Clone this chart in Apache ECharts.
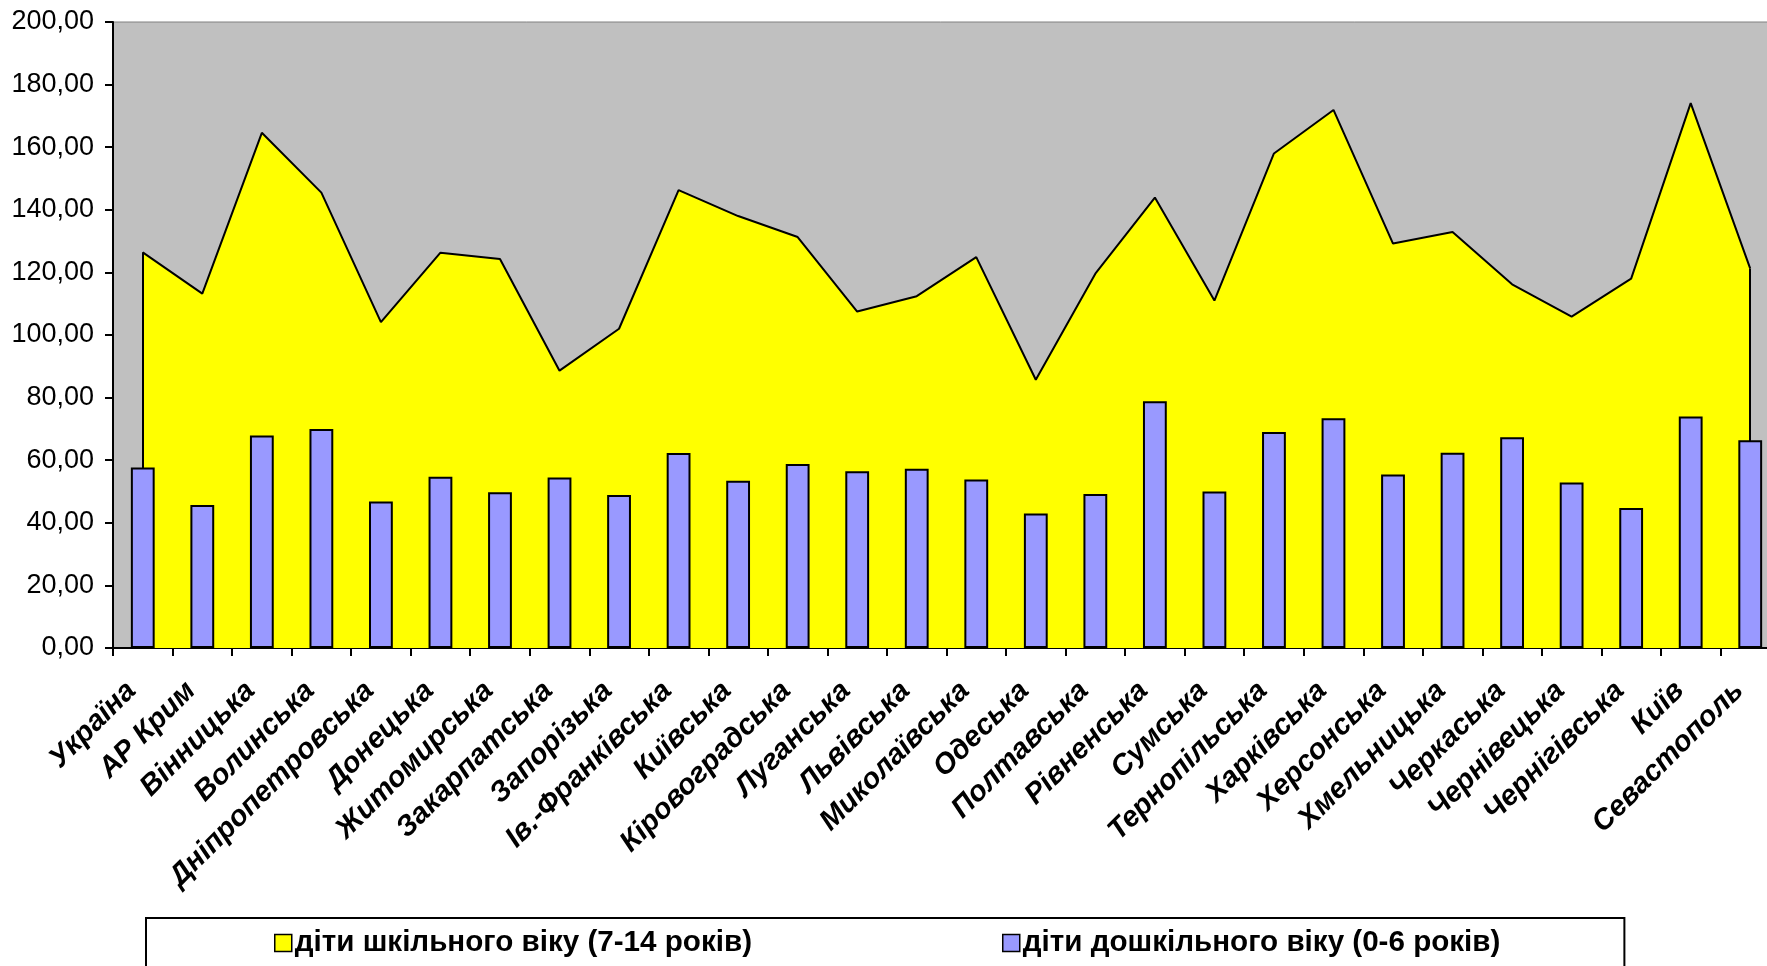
<!DOCTYPE html>
<html>
<head>
<meta charset="utf-8">
<script src="https://cdn.jsdelivr.net/npm/echarts@6/dist/echarts.min.js"></script>
<style>
html,body{margin:0;padding:0;background:#fff;}
#chart{width:1767px;height:966px;}
</style>
</head>
<body>
<div id="chart"></div>
<script>
const categories = ['Україна','АР Крим','Вінницька','Волинська','Дніпропетровська','Донецька','Житомирська','Закарпатська','Запорізька','Ів.-Франківська','Київська','Кіровоградська','Луганська','Львівська','Миколаївська','Одеська','Полтавська','Рівненська','Сумська','Тернопільська','Харківська','Херсонська','Хмельницька','Черкаська','Чернівецька','Чернігівська','Київ','Севастополь'];
const schoolAge = [126.4,113.2,164.6,145.5,104.1,126.3,124.3,88.6,102.0,146.3,138.0,131.3,107.5,112.4,124.9,85.7,119.6,143.9,111.0,158.0,171.9,129.2,132.9,116.2,105.9,118.0,174.1,121.2];
const preschoolAge = [57.7,45.7,67.9,70.0,46.8,54.7,49.8,54.5,48.9,62.3,53.4,58.8,56.5,57.3,53.8,43.0,49.2,78.8,50.0,69.0,73.4,55.4,62.4,67.3,52.9,44.7,74.0,66.4];
const seriesNames = ['діти шкільного віку (7-14 років)','діти дошкільного віку (0-6 років)'];
const yTicks = {min:0, max:200, interval:20};

const chart = echarts.init(document.getElementById('chart'));
const font = 'Liberation Sans, Arial, sans-serif';
const last = categories.length - 1;
chart.setOption({
  animation:false,
  backgroundColor:'#ffffff',
  grid:{left:113, top:22, width:1667, height:626, containLabel:false, outerBoundsMode:'none', show:true, backgroundColor:'#C0C0C0', borderColor:'#808080', borderWidth:1},
  legend:{
    left:146, top:918, orient:'horizontal',
    itemGap:250, itemWidth:17, itemHeight:17,
    padding:[10,124,30,128],
    borderColor:'#000', borderWidth:2,
    textStyle:{fontSize:29.6, fontWeight:'bold', fontFamily:font, color:'#000', padding:[0,0,0,-2]},
    data:[
      {name:seriesNames[0], icon:'rect', itemStyle:{color:'#FFFF00', borderColor:'#000', borderWidth:1.5}, lineStyle:{width:0, opacity:0}},
      {name:seriesNames[1], icon:'rect', itemStyle:{color:'#9999FF', borderColor:'#000', borderWidth:1.5}}
    ]
  },
  xAxis:[{
    type:'category', data:categories, boundaryGap:true,
    axisLine:{lineStyle:{color:'#000', width:2}},
    axisTick:{show:true, length:8, alignWithLabel:false, lineStyle:{color:'#000', width:2}},
    axisLabel:{interval:0, rotate:45, margin:27, padding:[0,16,0,0], fontSize:29, fontWeight:'bold', fontStyle:'italic', fontFamily:font, color:'#000'}
  },{
    type:'category', data:categories, boundaryGap:true, position:'bottom',
    axisLine:{show:false},
    axisTick:{show:true, inside:true, length:8, lineStyle:{color:'#000', width:2}},
    axisLabel:{show:false}
  }],
  yAxis:[{
    type:'value', min:yTicks.min, max:yTicks.max, interval:yTicks.interval,
    axisLine:{show:true, lineStyle:{color:'#000', width:2}},
    axisTick:{show:true, length:8, lineStyle:{color:'#000', width:2}},
    splitLine:{show:false},
    axisLabel:{margin:19, fontSize:27, fontFamily:font, color:'#000', formatter:v=>v.toFixed(2).replace('.',',')}
  }],
  series:[
    {
      name:seriesNames[0], type:'line', data:schoolAge, symbol:'none', z:1,
      itemStyle:{color:'#FFFF00'},
      lineStyle:{color:'#000', width:2},
      areaStyle:{color:'#FFFF00', opacity:1},
      markLine:{
        silent:true, symbol:'none', z:2, label:{show:false},
        lineStyle:{color:'#000', width:2, type:'solid'},
        data:[
          [{coord:[categories[0],0]},{coord:[categories[0],schoolAge[0]]}],
          [{coord:[categories[last],0]},{coord:[categories[last],schoolAge[last]]}]
        ]
      }
    },
    {
      name:seriesNames[1], type:'bar', data:preschoolAge, barWidth:'40%', z:3,
      itemStyle:{color:'#9999FF', borderColor:'#000', borderWidth:2}
    }
  ]
});
</script>
</body>
</html>
